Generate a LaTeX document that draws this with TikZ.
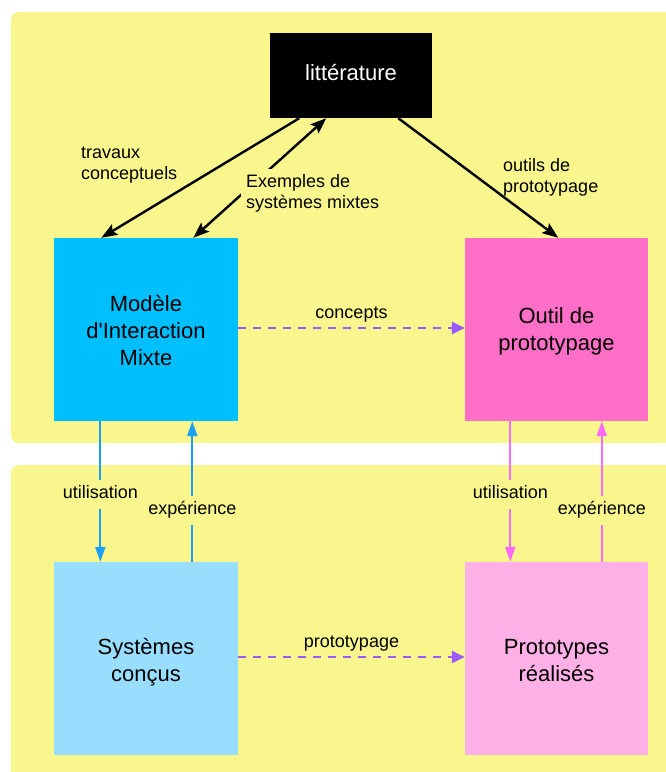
\documentclass[tikz,border=0pt]{standalone}
\usepackage{fontspec}
\setmainfont{Liberation Sans}[Ligatures=TeXOff]
\usetikzlibrary{arrows.meta,calc}
\definecolor{panel}{RGB}{250,246,142}
\definecolor{modc}{RGB}{0,191,255}
\definecolor{outc}{RGB}{255,110,199}
\definecolor{sysc}{RGB}{153,222,255}
\definecolor{proc}{RGB}{255,176,230}
\definecolor{bluearr}{RGB}{25,160,245}
\definecolor{pinkarr}{RGB}{255,105,250}
\definecolor{purp}{RGB}{155,90,255}
\tikzset{
  x=1pt, y=-1pt,
  boxtext/.style={font=\fontsize{22}{27}\selectfont, align=center, inner sep=0pt},
  lbl/.style={font=\fontsize{18}{21}\selectfont, inner sep=0pt},
  fillbox/.style={font=\fontsize{18}{21}\selectfont, fill=panel, inner sep=5pt},
  gaplbl/.style={font=\fontsize{18}{21}\selectfont, fill=panel, inner sep=6pt, text height=13pt, text depth=4pt},
  blk/.style={draw=black, line width=2.4pt, -{Stealth[length=16pt,width=12pt,inset=3pt]}},
  blkboth/.style={draw=black, line width=2.4pt, {Stealth[length=16pt,width=12pt,inset=3pt]}-{Stealth[length=16pt,width=12pt,inset=3pt]}},
  vblue/.style={draw=bluearr, line width=2pt, -{Triangle[length=15pt,width=10pt]}},
  vpink/.style={draw=pinkarr, line width=2pt, -{Triangle[length=15pt,width=10pt]}},
  dasharr/.style={draw=purp, line width=2.5pt, dash pattern=on 8pt off 7pt, -{Triangle[length=13pt,width=12pt]}},
}
\begin{document}
\begin{tikzpicture}
\useasboundingbox (0,0) rectangle (666,772);
% panels
\fill[panel, rounded corners=8pt] (11,12) rectangle (680,443);
\fill[panel, rounded corners=8pt] (11,465) rectangle (680,790);
% boxes
\node[fill=black, minimum width=162pt, minimum height=85pt, inner sep=0pt] (lit) at (351,75.5) {};
\node[boxtext, text=white] (littxt) at (351,73) {littérature};
\node[fill=modc, minimum width=184pt, minimum height=183pt, inner sep=0pt] (mod) at (146,329.5) {};
\node[boxtext] (modtxt) at (146,331) {Modèle\\d'Interaction\\Mixte};
\node[fill=outc, minimum width=183pt, minimum height=183pt, inner sep=0pt] (out) at (556.5,329.5) {};
\node[boxtext] (outtxt) at (556.5,331) {Outil de\\prototypage};
\node[fill=sysc, minimum width=184pt, minimum height=193pt, inner sep=0pt] (sys) at (146,658.5) {};
\node[boxtext] (systxt) at (146,662) {Systèmes\\conçus};
\node[fill=proc, minimum width=183pt, minimum height=193pt, inner sep=0pt] (pro) at (556.5,658.5) {};
\node[boxtext] (protxt) at (556.5,661) {Prototypes\\réalisés};
% black arrows
\draw[blk] ($(lit.south west)+(29.5,0)$) -- ($(mod.north west)+(47.5,0)$);
\draw[blkboth] ($(mod.north west)+(139.5,0)$) -- ($(lit.south west)+(56.5,0)$);
\draw[blk] ($(lit.south west)+(128.5,0)$) -- ($(out.north west)+(93.5,0)$);
\node[lbl, anchor=west, align=left] (trav) at (81,165) {travaux\\conceptuels};
\node[fillbox, anchor=west, align=left] (exem) at (241,193) {Exemples de\\systèmes mixtes};
\node[lbl, anchor=west, align=left] (outl) at (503,177.5) {outils de\\prototypage};
% dashed arrows
\draw[dasharr] (mod.east |- 0,328) -- (out.west |- 0,328) node[lbl, midway, above=5pt] (conc) {concepts};
\draw[dasharr] (sys.east |- 0,657) -- (pro.west |- 0,657) node[lbl, midway, above=5pt] (prot) {prototypage};
% vertical blue arrows
\draw[vblue] ($(mod.south west)+(46.5,0)$) -- node[gaplbl, pos=0.52] (ut1) {utilisation} ($(sys.north west)+(46.5,0)$);
\draw[vblue] ($(sys.north west)+(138.5,0)$) -- node[gaplbl, pos=0.365] (ex1) {expérience} ($(mod.south west)+(138.5,0)$);
% vertical pink arrows
\draw[vpink] ($(out.south west)+(45.5,0)$) -- node[gaplbl, pos=0.52] (ut2) {utilisation} ($(pro.north west)+(45.5,0)$);
\draw[vpink] ($(pro.north west)+(137,0)$) -- node[gaplbl, pos=0.365] (ex2) {expérience} ($(out.south west)+(137,0)$);
\end{tikzpicture}
\end{document}
